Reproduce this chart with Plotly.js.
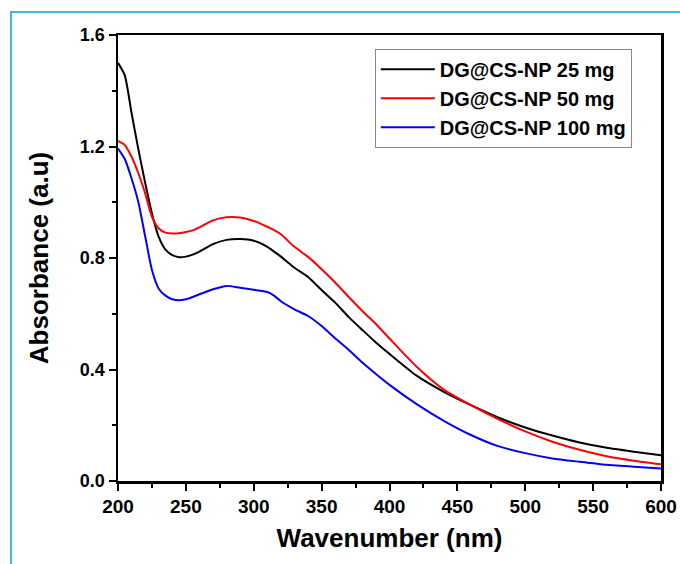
<!DOCTYPE html>
<html>
<head>
<meta charset="utf-8">
<script src="https://cdn.plot.ly/plotly-3.0.1.min.js"></script>
<style>
  html, body { margin: 0; padding: 0; background: #fff; }
  #wrap { position: relative; width: 680px; height: 564px; overflow: hidden; }
  #chart { width: 680px; height: 564px; }
  #frame { position: absolute; left: 10px; top: 11px; width: 700px; height: 600px;
           border-left: 2px solid #3cb9e8; border-top: 2px solid #3cb9e8; pointer-events: none; }
</style>
</head>
<body>
<div id="wrap">
  <div id="chart"></div>
  <div id="frame"></div>
</div>
<script>
// Wavelength (nm)
const wavelength = [200,205,210,215,220,225,230,235,240,245,250,255,260,270,280,290,300,310,315,320,330,340,350,360,370,380,390,400,420,440,460,480,500,520,540,560,580,600];

// Absorbance (a.u) per sample
const abs25mg  = [1.500,1.455,1.320,1.190,1.070,0.960,0.876,0.830,0.810,0.803,0.805,0.812,0.823,0.850,0.865,0.868,0.862,0.840,0.823,0.805,0.765,0.732,0.685,0.640,0.588,0.542,0.497,0.456,0.378,0.320,0.272,0.228,0.192,0.163,0.138,0.119,0.105,0.092];
const abs50mg  = [1.220,1.205,1.163,1.104,1.032,0.948,0.906,0.891,0.888,0.889,0.893,0.899,0.910,0.935,0.946,0.945,0.933,0.912,0.900,0.885,0.840,0.804,0.760,0.712,0.660,0.610,0.563,0.511,0.410,0.328,0.272,0.222,0.178,0.141,0.112,0.089,0.073,0.060];
const abs100mg = [1.193,1.155,1.085,1.000,0.878,0.757,0.690,0.665,0.652,0.648,0.652,0.660,0.670,0.688,0.700,0.693,0.686,0.678,0.665,0.645,0.616,0.592,0.556,0.512,0.470,0.425,0.384,0.345,0.276,0.216,0.165,0.125,0.100,0.081,0.069,0.058,0.051,0.045];

const seriesNames = ["DG@CS-NP 25 mg", "DG@CS-NP 50 mg", "DG@CS-NP 100 mg"];
const seriesColors = ["#000000", "#ff0000", "#0000ff"];
const seriesValues = [abs25mg, abs50mg, abs100mg];

const xTicks = [200,250,300,350,400,450,500,550,600];
const yTicks = [0.0,0.4,0.8,1.2,1.6];
const yTickText = ["0.0","0.4","0.8","1.2","1.6"];

const traces = seriesValues.map((vals, i) => ({
  type: "scatter",
  mode: "lines",
  x: wavelength,
  y: vals,
  name: seriesNames[i],
  line: { color: seriesColors[i], width: 2, shape: "spline", smoothing: 0.6 }
}));

const fontFam = "Liberation Sans, Arial, sans-serif";

const layout = {
  width: 680, height: 564,
  paper_bgcolor: "rgba(0,0,0,0)",
  plot_bgcolor: "#ffffff",
  margin: { l: 118, r: 19, t: 35, b: 83, pad: 0 },
  showlegend: true,
  legend: {
    x: 0.473, y: 0.969, xanchor: "left", yanchor: "top",
    bgcolor: "#ffffff", bordercolor: "#888888", borderwidth: 1,
    font: { family: fontFam, size: 20, color: "#000", weight: "bold" },
    tracegroupgap: 0, itemwidth: 54
  },
  xaxis: {
    range: [200, 600],
    tickvals: xTicks,
    ticktext: xTicks.map(String),
    ticks: "outside", ticklen: 7, tickwidth: 2, tickcolor: "#000",
    minor: { dtick: 25, tick0: 200, ticks: "outside", ticklen: 4, tickwidth: 2, tickcolor: "#000" },
    showline: true, linewidth: 2.5, linecolor: "#000", mirror: true,
    showgrid: false, zeroline: false,
    tickfont: { family: fontFam, size: 19, color: "#000", weight: "bold" },
    title: { text: "Wavenumber (nm)", font: { family: fontFam, size: 26, color: "#000", weight: "bold" }, standoff: 13 }
  },
  yaxis: {
    range: [0, 1.6],
    tickvals: yTicks,
    ticktext: yTickText,
    ticks: "outside", ticklen: 7, tickwidth: 2, tickcolor: "#000",
    minor: { dtick: 0.2, tick0: 0, ticks: "outside", ticklen: 4, tickwidth: 2, tickcolor: "#000" },
    showline: true, linewidth: 2.5, linecolor: "#000", mirror: true,
    showgrid: false, zeroline: false,
    tickfont: { family: fontFam, size: 18, color: "#000", weight: "bold" },
    title: { text: "Absorbance (a.u)", font: { family: fontFam, size: 26, color: "#000", weight: "bold" }, standoff: 24 }
  }
};

Plotly.newPlot("chart", traces, layout, { displayModeBar: false, staticPlot: true });
</script>
</body>
</html>
